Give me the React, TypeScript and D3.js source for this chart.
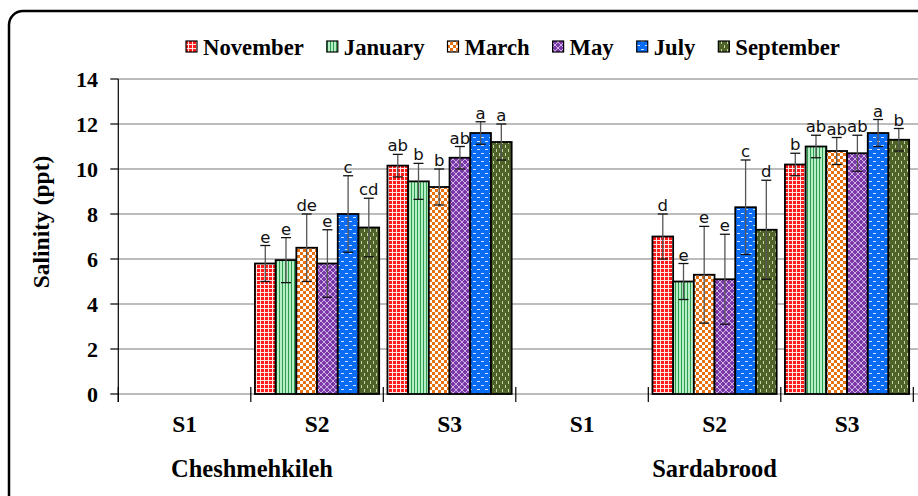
import React, { useEffect, useRef } from "react";
import * as d3 from "d3";

const categories = ["S1", "S2", "S3", "S1", "S2", "S3"];
const groups = ["Cheshmehkileh", "Sardabrood"];
const months = ["November", "January", "March", "May", "July", "September"];
const yTicks = [0, 2, 4, 6, 8, 10, 12, 14];

const novValues = [null, 5.8, 10.15, null, 7.0, 10.2];
const janValues = [null, 5.95, 9.45, null, 5.0, 11.0];
const marValues = [null, 6.5, 9.2, null, 5.3, 10.8];
const mayValues = [null, 5.8, 10.5, null, 5.1, 10.7];
const julValues = [null, 8.0, 11.6, null, 8.3, 11.6];
const sepValues = [null, 7.4, 11.2, null, 7.3, 11.3];

const novErr = [null, 0.8, 0.5, null, 1.0, 0.5];
const janErr = [null, 1.0, 0.8, null, 0.8, 0.5];
const marErr = [null, 1.5, 0.8, null, 2.15, 0.6];
const mayErr = [null, 1.5, 0.5, null, 2.0, 0.8];
const julErr = [null, 1.7, 0.5, null, 2.1, 0.6];
const sepErr = [null, 1.3, 0.8, null, 2.2, 0.5];

const novLetters = [null, "e", "ab", null, "d", "b"];
const janLetters = [null, "e", "b", null, "e", "ab"];
const marLetters = [null, "de", "b", null, "e", "ab"];
const mayLetters = [null, "e", "ab", null, "e", "ab"];
const julLetters = [null, "c", "a", null, "c", "a"];
const sepLetters = [null, "cd", "a", null, "d", "b"];

const seriesValues = [novValues, janValues, marValues, mayValues, julValues, sepValues];
const seriesErr = [novErr, janErr, marErr, mayErr, julErr, sepErr];
const seriesLetters = [novLetters, janLetters, marLetters, mayLetters, julLetters, sepLetters];

const W = 918;
const H = 496;
const SERIF = "'Liberation Serif', 'Times New Roman', serif";
const SANS = "'DejaVu Sans', Verdana, sans-serif";

export default function App() {
  const ref = useRef<SVGSVGElement | null>(null);

  useEffect(() => {
    document.body.style.margin = "0";
    const svg = d3.select(ref.current);
    svg.selectAll("*").remove();

    // patterns
    const defs = svg.append("defs");
    const p0 = defs.append("pattern").attr("id", "p0").attr("patternUnits", "userSpaceOnUse").attr("width", 4).attr("height", 4);
    p0.append("rect").attr("width", 4).attr("height", 4).attr("fill", "#ff1a1a");
    p0.append("rect").attr("x", 0).attr("y", 0).attr("width", 4).attr("height", 1).attr("fill", "#ffe6e6");
    p0.append("rect").attr("x", 0).attr("y", 0).attr("width", 1).attr("height", 4).attr("fill", "#ffe6e6");

    const p1 = defs.append("pattern").attr("id", "p1").attr("patternUnits", "userSpaceOnUse").attr("width", 3).attr("height", 3);
    p1.append("rect").attr("width", 3).attr("height", 3).attr("fill", "#b6efc6");
    p1.append("rect").attr("x", 0).attr("width", 1).attr("height", 3).attr("fill", "#2f9c52");

    const p2 = defs.append("pattern").attr("id", "p2").attr("patternUnits", "userSpaceOnUse").attr("width", 6).attr("height", 6);
    p2.append("rect").attr("width", 6).attr("height", 6).attr("fill", "#ffffff");
    p2.append("rect").attr("width", 3).attr("height", 3).attr("fill", "#e8700e");
    p2.append("rect").attr("x", 3).attr("y", 3).attr("width", 3).attr("height", 3).attr("fill", "#e8700e");

    const p3 = defs.append("pattern").attr("id", "p3").attr("patternUnits", "userSpaceOnUse").attr("width", 6).attr("height", 6);
    p3.append("rect").attr("width", 6).attr("height", 6).attr("fill", "#7a38a8");
    p3.append("path").attr("d", "M0,0L6,6M6,0L0,6M-1,5L1,7M5,-1L7,1M-1,1L1,-1M5,7L7,5").attr("stroke", "#d8c0ea").attr("stroke-width", 0.9);

    const p4 = defs.append("pattern").attr("id", "p4").attr("patternUnits", "userSpaceOnUse").attr("width", 8).attr("height", 8);
    p4.append("rect").attr("width", 8).attr("height", 8).attr("fill", "#0a6cf5");
    p4.append("rect").attr("x", 1).attr("y", 1).attr("width", 3).attr("height", 1).attr("fill", "#cfe2ff");
    p4.append("rect").attr("x", 5).attr("y", 5).attr("width", 3).attr("height", 1).attr("fill", "#cfe2ff");

    const p5 = defs.append("pattern").attr("id", "p5").attr("patternUnits", "userSpaceOnUse").attr("width", 6).attr("height", 8);
    p5.append("rect").attr("width", 6).attr("height", 8).attr("fill", "#4f6228");
    p5.append("rect").attr("x", 1).attr("y", 1).attr("width", 1).attr("height", 3).attr("fill", "#c8d4a8");
    p5.append("rect").attr("x", 4).attr("y", 5).attr("width", 1).attr("height", 3).attr("fill", "#c8d4a8");

    // frame
    svg.append("rect").attr("x", 9).attr("y", 11).attr("width", 960).attr("height", 540).attr("rx", 14)
      .attr("fill", "white").attr("stroke", "#000").attr("stroke-width", 2.5);

    const x0 = 118.3;
    const catW = 132.5;
    const x = d3.scaleBand<number>().domain(d3.range(categories.length)).range([x0, x0 + catW * categories.length]).padding(0);
    const xi = d3.scaleBand<number>().domain(d3.range(months.length)).range([0, x.bandwidth()]).paddingInner(0).paddingOuter(0.2);
    const y = d3.scaleLinear().domain([0, 14]).range([394, 79]);

    // gridlines
    svg.append("g").selectAll("line").data(yTicks).join("line")
      .attr("x1", x0).attr("x2", W + 5)
      .attr("y1", (d) => y(d)).attr("y2", (d) => y(d))
      .attr("stroke", "#a6a6a6").attr("stroke-width", 1.6);

    // y axis
    svg.append("line").attr("x1", x0).attr("x2", x0).attr("y1", y(14)).attr("y2", 402).attr("stroke", "#000").attr("stroke-width", 1.2);
    svg.append("g").selectAll("line").data(yTicks).join("line")
      .attr("x1", x0 - 8).attr("x2", x0).attr("y1", (d) => y(d)).attr("y2", (d) => y(d))
      .attr("stroke", "#000").attr("stroke-width", 1.2);
    svg.append("g").selectAll("text").data(yTicks).join("text")
      .attr("x", 98).attr("y", (d) => y(d) + 7.5)
      .attr("text-anchor", "end").attr("font-family", SERIF).attr("font-weight", "bold").attr("font-size", 22)
      .text((d) => String(d));

    svg.append("text").attr("transform", `translate(49,222) rotate(-90)`)
      .attr("text-anchor", "middle").attr("font-family", SERIF).attr("font-weight", "bold").attr("font-size", 23.5)
      .text("Salinity (ppt)");

    // x ticks
    svg.append("g").selectAll("line").data(d3.range(categories.length + 1)).join("line")
      .attr("x1", (d) => x0 + d * catW).attr("x2", (d) => x0 + d * catW)
      .attr("y1", 387).attr("y2", 402).attr("stroke", "#000").attr("stroke-width", 1.2);

    // bars
    const barsG = svg.append("g");
    seriesValues.forEach((vals, si) => {
      vals.forEach((v, ci) => {
        if (v == null) return;
        const bx = (x(ci) as number) + (xi(si) as number);
        const bw = xi.bandwidth();
        barsG.append("rect").attr("x", bx).attr("y", y(v)).attr("width", bw).attr("height", y(0) - y(v))
          .attr("fill", `url(#p${si})`).attr("stroke", "#000").attr("stroke-width", 1.8);
      });
    });
    // error bars + letters
    const errG = svg.append("g");
    seriesValues.forEach((vals, si) => {
      vals.forEach((v, ci) => {
        if (v == null) return;
        const e = seriesErr[si][ci] as number;
        const cx = (x(ci) as number) + (xi(si) as number) + xi.bandwidth() / 2;
        errG.append("line").attr("x1", cx).attr("x2", cx).attr("y1", y(v + e)).attr("y2", y(v - e))
          .attr("stroke", "#555").attr("stroke-width", 1.3);
        [v + e, v - e].forEach((yy) => {
          errG.append("line").attr("x1", cx - 5).attr("x2", cx + 5).attr("y1", y(yy)).attr("y2", y(yy))
            .attr("stroke", "#111").attr("stroke-width", 1.3);
        });
        errG.append("text").attr("x", cx).attr("y", y(v + e) - 3).attr("text-anchor", "middle")
          .attr("font-family", SANS).attr("font-size", 16.5).attr("fill", "#111")
          .text(seriesLetters[si][ci] as string);
      });
    });

    // category labels
    svg.append("g").selectAll("text").data(categories).join("text")
      .attr("x", (d, i) => (x(i) as number) + catW / 2).attr("y", 432)
      .attr("text-anchor", "middle").attr("font-family", SERIF).attr("font-weight", "bold").attr("font-size", 23.5)
      .text((d) => d);

    const groupCenters = [252, x0 + 4.5 * catW];
    svg.append("g").selectAll("text").data(groups).join("text")
      .attr("x", (d, i) => groupCenters[i]).attr("y", 477)
      .attr("text-anchor", "middle").attr("font-family", SERIF).attr("font-weight", "bold").attr("font-size", 24.5)
      .text((d) => d);

    // legend
    const lg = svg.append("g");
    let lx = 186;
    months.forEach((m, i) => {
      lg.append("rect").attr("x", lx).attr("y", 41).attr("width", 11).attr("height", 11)
        .attr("fill", `url(#p${i})`).attr("stroke", "#000").attr("stroke-width", 1.2);
      const t = lg.append("text").attr("x", lx + 17).attr("y", 54.5)
        .attr("font-family", SERIF).attr("font-weight", "bold").attr("font-size", 22.7).text(m);
      const tw = (t.node() as SVGTextElement).getComputedTextLength();
      lx = lx + 17 + tw + 23;
    });
  }, []);

  return <svg ref={ref} width={W} height={H} style={{ display: "block", background: "#fff" }} />;
}
